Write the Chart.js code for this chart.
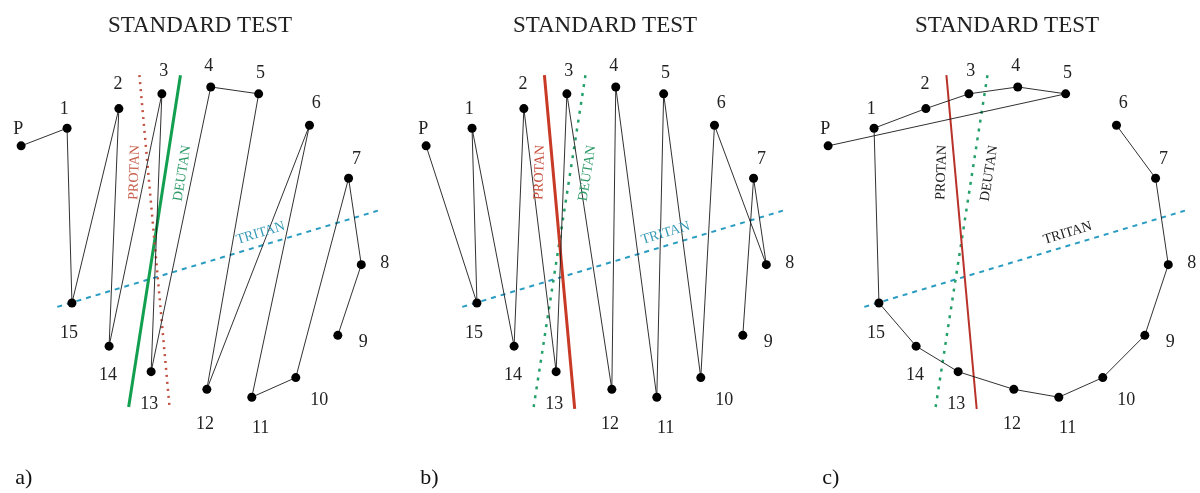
<!DOCTYPE html>
<html>
<head>
<meta charset="utf-8">
<script src="https://cdn.jsdelivr.net/npm/chart.js@4.4.1/dist/chart.umd.min.js"></script>
<style>
  body { margin: 0; background: #fff; width: 1200px; height: 493px; overflow: hidden; position: relative; }
  .panel { position: absolute; top: 0; width: 400px; height: 493px; }
</style>
</head>
<body>
<div class="panel" style="left:0px"><canvas id="chartA" width="400" height="493"></canvas></div>
<div class="panel" style="left:405px"><canvas id="chartB" width="400" height="493"></canvas></div>
<div class="panel" style="left:807px"><canvas id="chartC" width="400" height="493"></canvas></div>
<script>
// D-15 cap positions (same layout in all three panels)
const caps = ['P', '1', '2', '3', '4', '5', '6', '7', '8', '9', '10', '11', '12', '13', '14', '15'];
const capX = [17, 64, 117, 161, 211, 260, 312, 352, 365, 341, 298, 253, 207, 150, 107, 69];
const capY = [144, 126, 106, 91, 84, 91, 123, 177, 265, 337, 380, 400, 392, 374, 348, 304];

// order in which the caps were arranged
const orderA = ['P', '1', '15', '2', '14', '3', '13', '4', '5', '12', '6', '11', '10', '7', '8', '9'];
const orderB = ['P', '15', '1', '14', '2', '13', '3', '12', '4', '11', '5', '10', '6', '8', '7', '9'];
const orderC = ['P', '5', '4', '3', '2', '1', '15', '14', '13', '12', '11', '10', '9', '8', '7', '6'];

// confusion axes (two end points each)
const protanX = [138, 169], protanY = [72, 412];
const deutanX = [180, 127], deutanY = [72, 410];
const tritanX = [54, 382], tritanY = [308, 210];

const title = 'STANDARD TEST';
const panelNames = ['a)', 'b)', 'c)'];

// where each cap number sits relative to its dot
const labelDx = [-3, -3, -1, 2, -2, 2, 7, 8, 24, 26, 24, 9, -2, -2, -1, -3];
const labelDy = [-17, -19, -25, -23, -21, -21, -22, -19, -1, 7, 23, 32, 36, 33, 30, 31];

function pts(xs, ys) {
    return xs.map((x, i) => ({ x: x, y: ys[i] }));
}

function pathPoints(order) {
    return order.map(c => {
        const i = caps.indexOf(c);
        return { x: capX[i], y: capY[i] };
    });
}

const textPlugin = {
    id: 'd15text',
    afterDatasetsDraw(chart, args, opts) {
        const ctx = chart.ctx;
        const sx = chart.scales.x, sy = chart.scales.y;
        ctx.save();
        ctx.textAlign = 'center';
        ctx.textBaseline = 'middle';

        // title
        ctx.fillStyle = '#222';
        ctx.font = '23px "Liberation Serif", serif';
        ctx.fillText(title, sx.getPixelForValue(200), sy.getPixelForValue(22));

        // cap numbers
        ctx.font = '18px "Liberation Serif", serif';
        caps.forEach((c, i) => {
            ctx.fillText(c, sx.getPixelForValue(capX[i] + labelDx[i]), sy.getPixelForValue(capY[i] + labelDy[i]));
        });

        // axis names
        ctx.font = '14px "Liberation Serif", serif';
        const names = [
            { t: 'PROTAN', x: 133, y: 171, rot: -88, color: opts.protanText },
            { t: 'DEUTAN', x: 182, y: 172, rot: -81, color: opts.deutanText },
            { t: 'TRITAN', x: 262, y: 233, rot: -17, color: opts.tritanText }
        ];
        names.forEach(n => {
            ctx.save();
            ctx.translate(sx.getPixelForValue(n.x), sy.getPixelForValue(n.y));
            ctx.rotate(n.rot * Math.PI / 180);
            ctx.fillStyle = n.color;
            ctx.fillText(n.t, 0, 0);
            ctx.restore();
        });

        // panel letter
        ctx.fillStyle = '#111';
        ctx.textAlign = 'left';
        ctx.textBaseline = 'alphabetic';
        ctx.font = '22px "Liberation Serif", serif';
        ctx.fillText(opts.name, sx.getPixelForValue(11), sy.getPixelForValue(488));
        ctx.restore();
    }
};

function makeChart(id, order, style) {
    new Chart(document.getElementById(id), {
        type: 'scatter',
        data: {
            datasets: [
                {
                    label: 'protan',
                    data: pts(protanX, protanY),
                    showLine: true,
                    pointRadius: 0,
                    borderColor: style.protanColor,
                    borderWidth: style.protanWidth,
                    borderDash: style.protanDash,
                    order: 3
                },
                {
                    label: 'deutan',
                    data: pts(deutanX, deutanY),
                    showLine: true,
                    pointRadius: 0,
                    borderColor: style.deutanColor,
                    borderWidth: style.deutanWidth,
                    borderDash: style.deutanDash,
                    order: 3
                },
                {
                    label: 'tritan',
                    data: pts(tritanX, tritanY),
                    showLine: true,
                    pointRadius: 0,
                    borderColor: '#2a9cc2',
                    borderWidth: 2,
                    borderDash: [5, 5],
                    order: 3
                },
                {
                    label: 'arrangement',
                    data: pathPoints(order),
                    showLine: true,
                    pointRadius: 0,
                    borderColor: '#1a1a1a',
                    borderWidth: 0.9,
                    order: 2
                },
                {
                    label: 'caps',
                    data: pts(capX, capY),
                    pointRadius: 4.5,
                    pointBackgroundColor: '#000',
                    pointBorderWidth: 0,
                    order: 1
                }
            ]
        },
        options: {
            responsive: false,
            animation: false,
            layout: { padding: 0 },
            scales: {
                x: { type: 'linear', min: 0, max: 400, display: false },
                y: { type: 'linear', min: 0, max: 493, reverse: true, display: false }
            },
            plugins: {
                legend: { display: false },
                tooltip: { enabled: false },
                d15text: {
                    name: style.name,
                    protanText: style.protanText,
                    deutanText: style.deutanText,
                    tritanText: style.tritanText
                }
            }
        },
        plugins: [textPlugin]
    });
}

makeChart('chartA', orderA, {
    name: panelNames[0],
    protanColor: '#c0503f', protanWidth: 2.5, protanDash: [2, 5],
    deutanColor: '#12a050', deutanWidth: 3, deutanDash: [],
    protanText: '#c8604e', deutanText: '#2e9a68', tritanText: '#3a9cb8'
});

makeChart('chartB', orderB, {
    name: panelNames[1],
    protanColor: '#c93a26', protanWidth: 3, protanDash: [],
    deutanColor: '#26a06a', deutanWidth: 2.5, deutanDash: [3, 6],
    protanText: '#c8503e', deutanText: '#2e9a68', tritanText: '#3a9cb8'
});

makeChart('chartC', orderC, {
    name: panelNames[2],
    protanColor: '#b8322a', protanWidth: 2, protanDash: [],
    deutanColor: '#26a06a', deutanWidth: 2.5, deutanDash: [3, 6],
    protanText: '#222', deutanText: '#222', tritanText: '#222'
});
</script>
</body>
</html>
